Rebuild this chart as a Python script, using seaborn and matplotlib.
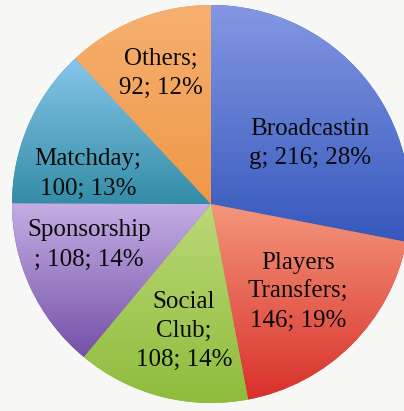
import numpy as np
import matplotlib
matplotlib.use("Agg")
import matplotlib.pyplot as plt
from matplotlib.colors import LinearSegmentedColormap
import seaborn as sns

sns.set_theme(style="white")
plt.rcParams["font.family"] = ["Liberation Serif", "DejaVu Serif"]

# Revenue breakdown
categories = ["Broadcasting", "Players Transfers", "Social Club",
              "Sponsorship", "Matchday", "Others"]
values = [216, 146, 108, 108, 100, 92]
percents = [28, 19, 14, 14, 13, 12]
labels = ["Broadcastin\ng; 216; 28%", "Players\nTransfers;\n146; 19%",
          "Social\nClub;\n108; 14%", "Sponsorship\n; 108; 14%",
          "Matchday;\n100; 13%", "Others;\n92; 12%"]

# light (top) / dark (bottom) shade of each wedge
shades = [("#8497e2", "#3558bd"),
          ("#f4967c", "#d8302a"),
          ("#bcd878", "#8ebc3c"),
          ("#c4aee4", "#7550a8"),
          ("#86c6ea", "#348ca6"),
          ("#f6b070", "#f09848")]

fig = plt.figure(figsize=(4.04, 4.11), dpi=100)
fig.patch.set_facecolor("#f7f7f5")
ax = fig.add_axes([0, 0, 1, 1])
ax.set_facecolor("#f7f7f5")

R = 199.0
ax.axis("off")

wedges, _ = ax.pie(values, startangle=90, counterclock=False, radius=1.0,
                   colors=[s[1] for s in shades],
                   wedgeprops=dict(linewidth=0))

grad = np.linspace(0, 1, 256).reshape(-1, 1)
for w, (light, dark) in zip(wedges, shades):
    ext = w.get_path().get_extents()
    cmap = LinearSegmentedColormap.from_list("g", [light, dark])
    im = ax.imshow(grad, cmap=cmap, aspect="auto", origin="upper",
                   extent=[ext.x0, ext.x1, ext.y0, ext.y1], zorder=1.5,
                   interpolation="bilinear")
    im.set_clip_path(w)
    w.set_zorder(1)

# label anchor positions (data units, pie radius = 1)
label_pos = [(0.497, 0.304), (0.437, -0.442), (-0.136, -0.638),
             (-0.613, -0.206), (-0.618, 0.151), (-0.251, 0.658)]
for (x, y), txt in zip(label_pos, labels):
    ax.text(x, y, txt, ha="center", va="center", fontsize=18,
            linespacing=1.42, color="#0a0a0a", zorder=3)

ax.set_xlim(-211 / R, 193 / R)
ax.set_ylim(-207 / R, 204 / R)
fig.savefig("out.png", dpi=100, facecolor=fig.get_facecolor())
